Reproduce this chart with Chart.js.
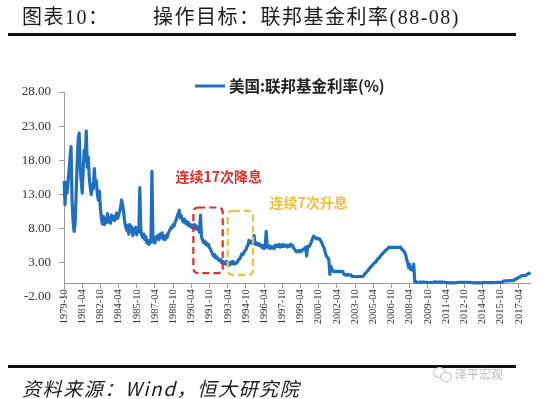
<!DOCTYPE html>
<html>
<head>
<meta charset="utf-8">
<script src="https://cdn.jsdelivr.net/npm/chart.js"></script>
<style>
body { margin: 0; background: #fff; }
#page { position: relative; width: 550px; height: 399px; overflow: hidden; background: #fff; }
#c { position: absolute; left: 0; top: 0; }
.head { position: absolute; top: 5px; font-family: "Liberation Serif", "Noto Sans CJK SC", serif; font-size: 20px; line-height: 24px; letter-spacing: 1.5px; color: #1a1a1a; white-space: nowrap; }
.rule { position: absolute; left: 8px; width: 508px; height: 2.5px; background: #111; }
.src { position: absolute; left: 22px; top: 376px; font-family: "Noto Sans CJK SC", sans-serif; font-style: italic; font-size: 19px; line-height: 24px; letter-spacing: 1.6px; color: #1a1a1a; white-space: nowrap; }
.mark { position: absolute; left: 455px; top: 366px; font-family: "Noto Sans CJK SC", sans-serif; font-size: 12px; line-height: 16px; color: #bdbdbd; }
.bub { position: absolute; border: 1.2px solid #c4c4c4; border-radius: 50%; }
</style>
</head>
<body>
<div id="page">
  <canvas id="c" width="550" height="399"></canvas>
  <div class="head" style="left:22px">图表10：</div>
  <div class="head" style="left:153px">操作目标：联邦基金利率(88-08)</div>
  <div class="rule" style="top:33px"></div>
  <div class="rule" style="top:365px"></div>
  <div class="bub" style="left:433px;top:367px;width:11px;height:9px"></div>
  <div class="bub" style="left:440px;top:372px;width:10px;height:8px;background:#fff"></div>
  <div class="mark">泽平宏观</div>
  <div class="src">资料来源：Wind，恒大研究院</div>
</div>
<script>
// 月度数据，起点 1979-10
const startYear = 1979;
const startMonth = 10;

const fedFunds = [
  15.0, 11.5, 14.8,
  13.2, 14.8, 16.5, 18.5, 20.0, 12.0, 9.0, 7.6, 8.8, 13.0, 17.5, 21.0,
  22.0, 17.0, 15.0, 13.2, 16.5, 19.5, 18.0, 22.3, 17.0, 18.5, 15.5, 14.0,
  13.0, 14.5, 13.8, 16.8, 14.5, 15.0, 13.0, 12.2, 13.5, 11.0, 9.5, 8.7,
  9.8, 8.6, 9.5, 8.9, 10.2, 9.0, 9.6, 8.8, 10.0, 9.3, 9.8, 9.2,
  9.6, 10.3, 9.5, 10.0, 10.5, 11.2, 12.2, 11.5, 10.5, 9.0, 8.3, 7.8,
  8.5, 7.2, 8.6, 7.6, 8.3, 7.0, 7.9, 7.4, 8.2, 7.1, 8.0, 7.5,
  14.0, 7.8, 7.0, 6.7, 7.2, 6.4, 6.8, 5.9, 6.3, 5.7, 6.2, 6.0,
  16.4, 6.1, 6.4, 5.9, 6.8, 6.5, 7.0, 6.4, 7.2, 6.8, 7.4, 6.5,
  6.9, 6.4, 7.0, 6.7, 7.3, 7.6, 7.9, 8.2, 8.1, 8.6, 8.4, 9.0,
  9.3, 9.8, 10.2, 10.7, 9.6, 9.9, 9.3, 9.0, 9.4, 8.8, 9.1, 8.6,
  8.9, 8.4, 8.6, 8.2, 8.5, 8.1, 8.6, 8.0, 8.4, 7.9, 8.2, 7.5,
  10.0, 6.8, 6.4, 6.0, 6.2, 5.7, 5.9, 5.5, 5.7, 5.2, 5.0, 4.6,
  4.3, 4.0, 4.2, 3.7, 3.9, 3.6, 3.4, 3.3, 3.5, 3.0, 3.2, 2.9,
  3.1, 2.8, 3.2, 2.9, 3.0, 2.7, 3.1, 2.9, 3.2, 2.8, 3.0, 2.9,
  3.0, 3.3, 3.5, 3.6, 4.0, 4.3, 4.2, 4.5, 4.8, 4.9, 5.4, 5.6,
  6.3, 5.9, 6.0, 6.2, 5.9, 7.0, 5.8, 5.7, 5.9, 5.6, 5.8, 5.5,
  5.6, 5.2, 5.5, 5.1, 5.3, 7.6, 5.4, 5.2, 5.5, 5.1, 5.4, 5.2,
  5.3, 5.1, 5.6, 5.4, 5.6, 5.4, 5.7, 5.3, 5.6, 5.4, 5.7, 5.4,
  5.5, 5.6, 5.3, 5.5, 5.4, 5.7, 5.5, 5.6, 5.2, 5.0, 4.8, 4.6,
  4.7, 4.8, 4.6, 4.8, 4.7, 4.9, 5.0, 5.1, 5.3, 4.0, 5.4, 5.3,
  5.5, 5.8, 6.2, 6.6, 6.9, 6.8, 6.6, 6.5, 6.6, 6.5, 6.5, 6.2,
  6.0, 5.5, 5.3, 4.8, 4.2, 3.9, 3.7, 3.5, 1.3, 2.5, 2.1, 1.8,
  1.7, 1.8, 1.7, 1.75, 1.75, 1.7, 1.75, 1.7, 1.75, 1.7, 1.3, 1.25,
  1.2, 1.3, 1.2, 1.25, 1.25, 1.2, 1.0, 1.05, 1.0, 1.0, 1.0, 0.95,
  1.0, 1.0, 1.0, 1.0, 1.0, 1.05, 1.25, 1.45, 1.6, 1.75, 1.95, 2.15,
  2.3, 2.5, 2.65, 2.8, 3.0, 3.05, 3.25, 3.5, 3.6, 3.8, 4.0, 4.15,
  4.3, 4.5, 4.6, 4.8, 4.95, 5.0, 5.25, 5.25, 5.25, 5.25, 5.25, 5.25,
  5.25, 5.25, 5.25, 5.25, 5.25, 5.25, 5.3, 5.0, 4.9, 4.75, 4.5, 4.2,
  3.5, 3.0, 2.3, 2.8, 2.0, 2.1, 1.9, 2.8, 0.2, 0.3, 0.15, 0.12,
  0.15, 0.2, 0.18, 0.15, 0.18, 0.2, 0.16, 0.16, 0.15, 0.12, 0.12, 0.12,
  0.11, 0.13, 0.16, 0.2, 0.2, 0.18, 0.18, 0.19, 0.19, 0.19, 0.19, 0.18,
  0.17, 0.16, 0.14, 0.1, 0.09, 0.09, 0.07, 0.1, 0.08, 0.07, 0.08, 0.07,
  0.08, 0.1, 0.13, 0.14, 0.16, 0.16, 0.16, 0.13, 0.14, 0.16, 0.16, 0.16,
  0.14, 0.15, 0.14, 0.15, 0.11, 0.09, 0.09, 0.08, 0.08, 0.09, 0.08, 0.09,
  0.07, 0.07, 0.08, 0.09, 0.09, 0.1, 0.09, 0.09, 0.09, 0.09, 0.09, 0.12,
  0.11, 0.11, 0.11, 0.12, 0.12, 0.13, 0.13, 0.14, 0.14, 0.12, 0.12, 0.24,
  0.34, 0.38, 0.36, 0.37, 0.37, 0.38, 0.39, 0.4, 0.4, 0.4, 0.41, 0.54,
  0.65, 0.66, 0.79, 0.9, 0.91, 1.04, 1.15, 1.16, 1.15, 1.15, 1.16, 1.3,
  1.41, 1.42, 1.65
];

const tickLabels = ['1979-10', '1981-04', '1982-10', '1984-04', '1985-10', '1987-04', '1988-10',
  '1990-04', '1991-10', '1993-04', '1994-10', '1996-04', '1997-10', '1999-04', '2000-10',
  '2002-04', '2003-10', '2005-04', '2006-10', '2008-04', '2009-10', '2011-04', '2012-10',
  '2014-04', '2015-10', '2017-04'];

const yMin = -2;
const yMax = 28;
const yStep = 5;

const seriesName = '美国:联邦基金利率(%)';
const lineBlue = '#1f6fc0';

// 注释框：起止月份和上下边界（利率值）
const boxes = [
  { from: '1990-06', to: '1992-11', top: 11.1, bottom: 1.5, color: '#e22b2b' },
  { from: '1993-04', to: '1995-05', top: 10.6, bottom: 1.25, color: '#f2bf3a' }
];
const notesText = [
  { text: '连续17次降息', at: '1992-07', value: 15.6, color: '#e22b2b' },
  { text: '连续7次升息', at: '1999-12', value: 11.75, color: '#f2bf3a' }
];

const months = fedFunds.map((v, i) => {
  const m = startMonth - 1 + i;
  return (startYear + Math.floor(m / 12)) + '-' + String(m % 12 + 1).padStart(2, '0');
});

function roundBox(ctx, x, y, w, h, r) {
  ctx.beginPath();
  ctx.moveTo(x + r, y);
  ctx.lineTo(x + w - r, y);
  ctx.quadraticCurveTo(x + w, y, x + w, y + r);
  ctx.lineTo(x + w, y + h - r);
  ctx.quadraticCurveTo(x + w, y + h, x + w - r, y + h);
  ctx.lineTo(x + r, y + h);
  ctx.quadraticCurveTo(x, y + h, x, y + h - r);
  ctx.lineTo(x, y + r);
  ctx.quadraticCurveTo(x, y, x + r, y);
  ctx.closePath();
}

const notes = {
  id: 'notes',
  afterDraw(chart) {
    const { ctx } = chart;
    const x = chart.scales.x, y = chart.scales.y;
    ctx.save();

    // 图例
    ctx.strokeStyle = lineBlue;
    ctx.lineWidth = 3;
    ctx.beginPath();
    ctx.moveTo(195, 86);
    ctx.lineTo(225, 86);
    ctx.stroke();
    ctx.font = 'bold 15.5px "Noto Sans CJK SC"';
    ctx.fillStyle = '#222';
    ctx.textBaseline = 'middle';
    ctx.textAlign = 'left';
    ctx.fillText(seriesName, 229, 86);

    boxes.forEach(b => {
      const x0 = x.getPixelForValue(months.indexOf(b.from));
      const x1 = x.getPixelForValue(months.indexOf(b.to));
      const y0 = y.getPixelForValue(b.top);
      const y1 = y.getPixelForValue(b.bottom);
      ctx.strokeStyle = b.color;
      ctx.lineWidth = 2.2;
      ctx.setLineDash([7, 4]);
      roundBox(ctx, x0, y0, x1 - x0, y1 - y0, 5);
      ctx.stroke();
    });
    ctx.setLineDash([]);

    ctx.font = 'bold 14px "Noto Sans CJK SC"';
    ctx.textAlign = 'center';
    notesText.forEach(n => {
      ctx.fillStyle = n.color;
      ctx.fillText(n.text, x.getPixelForValue(months.indexOf(n.at)), y.getPixelForValue(n.value));
    });
    ctx.restore();
  }
};

const axisGray = '#9a9a9a';

new Chart(document.getElementById('c'), {
  type: 'line',
  data: {
    labels: months,
    datasets: [{
      label: seriesName,
      data: fedFunds,
      borderColor: lineBlue,
      borderWidth: 3.2,
      borderJoinStyle: 'round',
      pointRadius: 0,
      tension: 0,
      fill: false
    }]
  },
  options: {
    responsive: false,
    animation: false,
    layout: { padding: { top: 92, bottom: 102, left: 0, right: 20 } },
    plugins: { legend: { display: false }, tooltip: { enabled: false } },
    scales: {
      x: {
        position: { y: 0 },
        grid: { drawOnChartArea: false, tickLength: 4, color: axisGray },
        border: { color: axisGray },
        afterBuildTicks: axis => {
          axis.ticks = axis.ticks.filter(t => tickLabels.includes(months[t.value]));
        },
        ticks: {
          autoSkip: false,
          maxRotation: 90,
          minRotation: 90,
          padding: 2,
          color: '#333',
          font: { family: 'Liberation Serif', size: 10.5 }
        }
      },
      y: {
        min: yMin,
        max: yMax,
        grid: { drawOnChartArea: false, tickLength: 5, color: axisGray },
        border: { color: axisGray },
        afterFit: s => { s.width = 64; },
        ticks: {
          stepSize: yStep,
          padding: 8,
          color: '#333',
          font: { family: 'Liberation Serif', size: 13 },
          callback: v => v.toFixed(2)
        }
      }
    }
  },
  plugins: [notes]
});
</script>
</body>
</html>
